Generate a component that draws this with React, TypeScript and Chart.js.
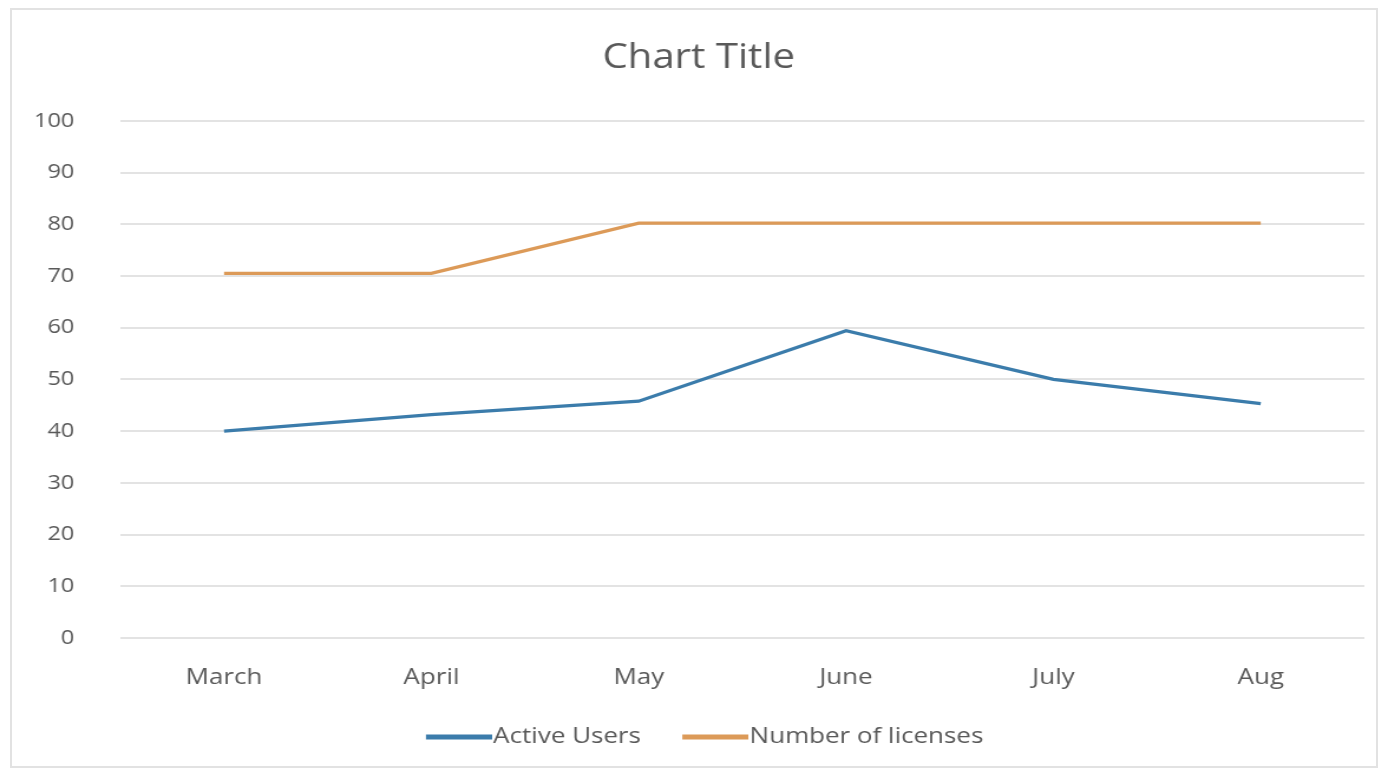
import React, { useEffect, useRef } from "react";
import { Chart, registerables } from "chart.js";

Chart.register(...registerables);

const categories = ["March", "April", "May", "June", "July", "Aug"];
const activeUsers = [40, 43.2, 45.8, 59.4, 50, 45.3];
const licenses = [70.5, 70.5, 80.2, 80.2, 80.2, 80.2];
const yTicks = [0, 10, 20, 30, 40, 50, 60, 70, 80, 90, 100];

const FONT = "'Open Sans', Lato, sans-serif";
const BLUE = "#3b7cab";
const ORANGE = "#dc9a58";
const STRETCH = 1.18;
const CANVAS_W = Math.round(1388 / STRETCH);
const LEGEND_LINE = 56;
const LEGEND_SHIFT = 10;

function legendSwatch(color: string): HTMLCanvasElement {
  const c = document.createElement("canvas");
  c.width = LEGEND_LINE + 2 * LEGEND_SHIFT;
  c.height = 6;
  const g = c.getContext("2d")!;
  g.fillStyle = color;
  g.fillRect(2 * LEGEND_SHIFT, 0.5, LEGEND_LINE, 5);
  return c;
}

export default function App() {
  const ref = useRef<HTMLCanvasElement | null>(null);

  useEffect(() => {
    if (!ref.current) return;
    const chart = new Chart(ref.current, {
      type: "line",
      data: {
        labels: categories,
        datasets: [
          {
            label: "Active Users",
            data: activeUsers,
            borderColor: BLUE,
            backgroundColor: BLUE,
            borderWidth: 3.2,
            pointRadius: 0,
            tension: 0,
          },
          {
            label: "Number of licenses",
            data: licenses,
            borderColor: ORANGE,
            backgroundColor: ORANGE,
            borderWidth: 3.2,
            pointRadius: 0,
            tension: 0,
          },
        ],
      },
      options: {
        animation: false,
        responsive: false,
        maintainAspectRatio: false,
        layout: { padding: { left: 28, right: 20, top: 0, bottom: 19 } },
        plugins: {
          title: {
            display: true,
            text: "Chart Title",
            color: "#595959",
            font: { family: FONT, size: 34, weight: "normal" },
            padding: { top: 38, bottom: 42 },
          },
          legend: {
            position: "bottom",
            labels: {
              color: "#595959",
              font: { family: FONT, size: 22 },
              usePointStyle: true,
              pointStyleWidth: LEGEND_LINE,
              boxHeight: 5,
              padding: 25,
              generateLabels: (c: any) =>
                c.data.datasets.map((d: any, i: number) => ({
                  text: d.label,
                  fillStyle: d.borderColor,
                  strokeStyle: d.borderColor,
                  lineWidth: 0,
                  pointStyle: legendSwatch(d.borderColor),
                  fontColor: "#595959",
                  hidden: false,
                  datasetIndex: i,
                })),
            },
          },
          tooltip: { enabled: false },
        },
        scales: {
          x: {
            offset: true,
            grid: { display: false },
            border: { display: false },
            afterFit: (s: any) => {
              s.height = 63;
            },
            ticks: {
              color: "#595959",
              font: { family: FONT, size: 22 },
              padding: 19,
            },
          },
          y: {
            min: 0,
            max: 100,
            afterBuildTicks: (s: any) => {
              s.ticks = yTicks.map((v) => ({ value: v }));
            },
            afterFit: (s: any) => {
              s.width = 102 - 28;
            },
            grid: { color: "#e3e3e3", lineWidth: 2, drawTicks: false },
            border: { display: false },
            ticks: {
              color: "#595959",
              font: { family: FONT, size: 20 },
              padding: 39,
            },
          },
        },
      },
    });
    return () => chart.destroy();
  }, []);

  return (
    <div style={{ position: "absolute", left: 0, top: 0, width: 1388, height: 777, background: "#fff", overflow: "hidden" }}>
      <div
        style={{
          position: "absolute",
          left: 10,
          top: 8,
          width: 1368,
          height: 760,
          border: "2px solid #e2e2e2",
          boxSizing: "border-box",
        }}
      />
      <canvas
        ref={ref}
        width={CANVAS_W}
        height={777}
        style={{
          position: "absolute",
          left: 0,
          top: 0,
          width: CANVAS_W,
          height: 777,
          transform: `scaleX(${1388 / CANVAS_W})`,
          transformOrigin: "0 0",
        }}
      />
    </div>
  );
}
